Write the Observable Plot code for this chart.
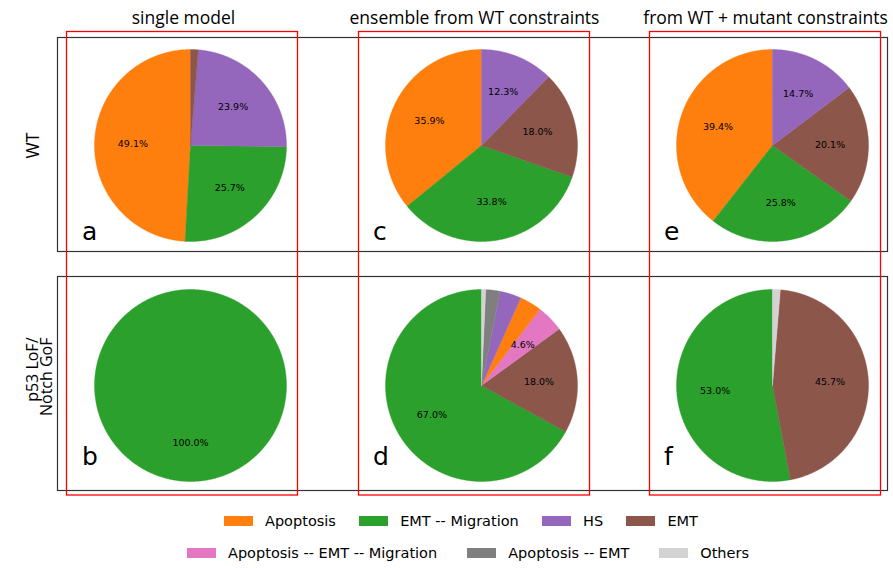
<!DOCTYPE html>
<html><head><meta charset="utf-8">
<script src="https://cdn.jsdelivr.net/npm/d3@7"></script>
<script src="https://cdn.jsdelivr.net/npm/@observablehq/plot@0.6"></script>
<style>
body{margin:0;background:#fff;}
#fig{position:relative;width:893px;height:568px;overflow:hidden;font-family:"DejaVu Sans",sans-serif;background:#fff;}
#fig svg{position:absolute;left:0;top:0;overflow:visible;}
.legend-row{position:absolute;display:flex;justify-content:space-between;align-items:center;height:18px;font-size:14.5px;color:#000;}
.item{display:flex;align-items:center;white-space:nowrap;}
.sw{width:29px;height:10px;margin-right:12px;}
</style></head><body><div id="fig"></div><script>
// ---- data ----
const categories = ["Apoptosis", "EMT -- Migration", "HS", "EMT", "Apoptosis -- EMT -- Migration", "Apoptosis -- EMT", "Others"];
const categoryColors = ["#ff7f0e", "#2ca02c", "#9467bd", "#8c564b", "#e377c2", "#7f7f7f", "#d3d3d3"];
const legendRow1 = ["Apoptosis", "EMT -- Migration", "HS", "EMT"];
const legendRow2 = ["Apoptosis -- EMT -- Migration", "Apoptosis -- EMT", "Others"];
const columnTitles = ["single model", "ensemble from WT constraints", "from WT + mutant constraints"];
const rowTitles = ["WT", "p53 LoF/\nNotch GoF"];
const panelLetters = ["a", "b", "c", "d", "e", "f"];
// slices listed counterclockwise starting at 12 o'clock (percent)
const pieA = [["Apoptosis", 49.1], ["EMT -- Migration", 25.7], ["HS", 23.9], ["EMT", 1.3]];
const pieB = [["EMT -- Migration", 100.0]];
const pieC = [["Apoptosis", 35.9], ["EMT -- Migration", 33.8], ["EMT", 18.0], ["HS", 12.3]];
const pieD = [["EMT -- Migration", 67.0], ["EMT", 18.0], ["Apoptosis -- EMT -- Migration", 4.6], ["Apoptosis", 3.7], ["HS", 3.6], ["Apoptosis -- EMT", 2.4], ["Others", 0.7]];
const pieE = [["Apoptosis", 39.4], ["EMT -- Migration", 25.8], ["EMT", 20.1], ["HS", 14.7]];
const pieF = [["EMT -- Migration", 53.0], ["EMT", 45.7], ["Others", 1.3]];
const labelThreshold = 4;

const pies = [pieA, pieB, pieC, pieD, pieE, pieF];

// ---- build geometry from data ----
const vertices = [], labels = [], letters = [];
pies.forEach((pie, i) => {
  const col = columnTitles[Math.floor(i / 2)], row = rowTitles[i % 2];
  const total = d3.sum(pie, d => d[1]);
  let a0 = Math.PI / 2;
  pie.forEach(([cat, v], j) => {
    const da = v / total * 2 * Math.PI;
    const key = i + "-" + j;
    const n = Math.max(2, Math.ceil(da / (Math.PI / 360)));
    vertices.push({key, cat, col, row, x: 0, y: 0});
    for (let k = 0; k <= n; k++) {
      const a = a0 + da * k / n;
      vertices.push({key, cat, col, row, x: Math.cos(a), y: Math.sin(a)});
    }
    vertices.push({key, cat, col, row, x: 0, y: 0});
    if (v >= labelThreshold) {
      const m = a0 + da / 2;
      labels.push({col, row, x: 0.6 * Math.cos(m), y: 0.6 * Math.sin(m), text: v.toFixed(1) + "%"});
    }
    a0 += da;
  });
  letters.push({col, row, text: panelLetters[i]});
});

const plot = Plot.plot({
  width: 893, height: 500,
  marginTop: 0, marginBottom: 0, marginLeft: 0, marginRight: 0,
  fx: {domain: columnTitles, range: [94, 868], paddingInner: 0.3402, paddingOuter: 0, round: false, axis: null},
  fy: {domain: rowTitles, range: [49, 481], paddingInner: 0.2, paddingOuter: 0, round: false, axis: null},
  x: {domain: [-1, 1], axis: null},
  y: {domain: [-1, 1], axis: null},
  color: {domain: categories, range: categoryColors},
  style: {fontFamily: "DejaVu Sans", overflow: "visible", background: "transparent"},
  marks: [
    Plot.line(vertices, {x: "x", y: "y", z: "key", fill: "cat", stroke: "cat", strokeWidth: 0.4, fx: "col", fy: "row", curve: "linear"}),
    Plot.text(labels, {x: "x", y: "y", text: "text", fx: "col", fy: "row", fontSize: 9.5, fill: "black"}),
    Plot.text(letters.filter(d => d.row === rowTitles[0]), {x: () => -1, y: () => -1, text: "text", fx: "col", fy: "row", textAnchor: "start", lineAnchor: "bottom", fontSize: 25, fill: "black", dx: -12.5, dy: -2}),
    Plot.text(letters.filter(d => d.row === rowTitles[1]), {x: () => -1, y: () => -1, text: "text", fx: "col", fy: "row", textAnchor: "start", lineAnchor: "bottom", fontSize: 25, fill: "black", dx: -12.5, dy: -17}),
    Plot.text(columnTitles, {fx: d => d, fy: () => rowTitles[0], frameAnchor: "top", text: d => d, fontFamily: "Open Sans", fontSize: 17.5, lineAnchor: "bottom", textAnchor: "middle", fill: "black", dy: -26, dx: -7}),
    Plot.text(rowTitles.slice(0, 1), {fx: () => columnTitles[0], fy: d => d, frameAnchor: "left", text: d => d, rotate: -90, textAnchor: "middle", lineAnchor: "middle", fontFamily: "Open Sans", fontSize: 17.5, fill: "black", dx: -61.5}),
    Plot.text(rowTitles.slice(1), {fx: () => columnTitles[0], fy: d => d, frameAnchor: "left", text: d => d, rotate: -90, textAnchor: "end", lineAnchor: "middle", fontFamily: "Open Sans", fontSize: 16, lineHeight: 0.9, fill: "black", dx: -54, dy: -48})
  ]
});

const fig = document.getElementById("fig");
fig.appendChild(plot);

// frames (overlay)
const ns = "http://www.w3.org/2000/svg";
const ov = document.createElementNS(ns, "svg");
ov.setAttribute("width", 893); ov.setAttribute("height", 568);
ov.style.pointerEvents = "none";
function rect(x0, y0, x1, y1, stroke, sw) {
  const r = document.createElementNS(ns, "rect");
  r.setAttribute("x", x0); r.setAttribute("y", y0);
  r.setAttribute("width", x1 - x0); r.setAttribute("height", y1 - y0);
  r.setAttribute("fill", "none"); r.setAttribute("stroke", stroke); r.setAttribute("stroke-width", sw);
  ov.appendChild(r);
}
rect(57.5, 37.5, 887.5, 251.5, "#333", 1.2);
rect(57.5, 276.5, 887.5, 490.5, "#333", 1.2);
rect(66.5, 31.5, 297.5, 495, "#ff0000", 1.3);
rect(358.5, 31.5, 589.5, 495, "#ff0000", 1.3);
rect(649.5, 31.5, 880.5, 495, "#ff0000", 1.3);
fig.appendChild(ov);

// legend
const colorOf = new Map(categories.map((c, i) => [c, categoryColors[i]]));
function legendRow(items, left, width, center) {
  const r = document.createElement("div");
  r.className = "legend-row";
  Object.assign(r.style, {left: left + "px", width: width + "px", top: (center - 9) + "px"});
  items.forEach(name => {
    const it = document.createElement("div");
    it.className = "item";
    const sw = document.createElement("span");
    sw.className = "sw";
    sw.style.background = colorOf.get(name);
    const tx = document.createElement("span");
    tx.textContent = name;
    it.appendChild(sw); it.appendChild(tx);
    r.appendChild(it);
  });
  fig.appendChild(r);
}
legendRow(legendRow1, 224, 474, 521);
legendRow(legendRow2, 187, 562, 553);
</script></body></html>
